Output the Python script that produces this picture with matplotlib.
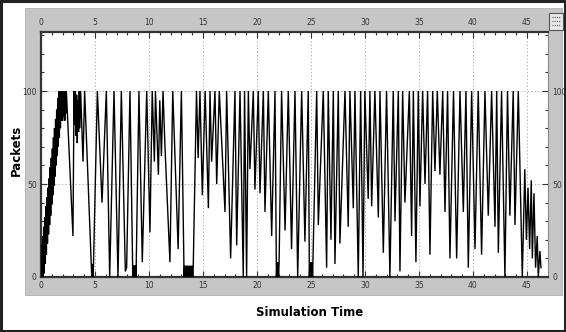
import matplotlib
matplotlib.use("Agg")
import matplotlib.pyplot as plt
from matplotlib.patches import Rectangle
from matplotlib.ticker import MultipleLocator

# ---- data ----
# start-up ramp (dense oscillation band)
ramp_time = [0.0, 0.05, 0.1, 0.15, 0.2, 0.25, 0.3, 0.35, 0.4, 0.45, 0.5, 0.55, 0.6, 0.65, 0.7,
             0.75, 0.8, 0.85, 0.9, 0.95, 1.0, 1.05, 1.1, 1.15, 1.2, 1.25, 1.3, 1.35, 1.4, 1.45,
             1.5, 1.55, 1.6, 1.65, 1.7, 1.75, 1.8, 1.85, 1.9, 1.95, 2.0, 2.05, 2.1, 2.15, 2.2,
             2.25, 2.3, 2.35]
ramp_packets = [0, 17, 0, 22, 0, 27, 2, 32, 7, 38, 12, 43, 18, 48, 23, 53, 28, 59, 33, 64,
                39, 69, 44, 75, 49, 80, 54, 85, 60, 90, 65, 96, 70, 100, 75, 100, 80, 100, 84,
                100, 84, 100, 86, 100, 84, 100, 88, 100]

# early section 2.9 - 8.5 s
early_time = [2.96, 3.06, 3.12, 3.18, 3.24, 3.3, 3.36, 3.42, 3.48, 3.54, 3.6, 3.67, 3.89, 4.04,
              4.7, 4.73, 4.76, 4.79, 4.82, 4.85, 5.22, 5.65, 6.05, 6.36, 6.76, 7.13, 7.44,
              7.81, 7.93, 8.24]
early_packets = [22, 100, 82, 100, 76, 98, 72, 95, 78, 100, 80, 100, 62, 100,
                 0, 7, 0, 7, 0, 4, 100, 40, 100, 0, 100, 0, 100,
                 3, 5, 100]

# short burst near the floor around 8.6 s
burst1_time = [8.5, 8.53, 8.56, 8.59, 8.62, 8.65, 8.68, 8.71, 8.74, 8.77, 8.8]
burst1_packets = [0, 6, 0, 6, 0, 6, 0, 6, 0, 6, 0]

mid1_time = [9.07, 9.38, 9.79, 10.09, 10.3, 10.5, 10.6, 10.87, 11.0, 11.15, 11.3, 11.48, 11.94,
             12.2, 12.7, 13.0]
mid1_packets = [100, 8, 100, 24, 100, 62, 100, 55, 95, 65, 100, 70, 8,
                100, 15, 100]

# long floor burst 13.25 - 14.1 s
burst2_time = [13.25, 13.3, 13.35, 13.4, 13.45, 13.5, 13.55, 13.6, 13.65, 13.7, 13.75, 13.8,
               13.85, 13.9, 13.95, 14.0, 14.05, 14.1]
burst2_packets = [0, 6, 0, 6, 0, 6, 0, 6, 0, 6, 0, 6, 0, 6, 0, 6, 0, 6]

mid2_time = [14.4, 14.55, 14.72, 14.94, 15.2, 15.5, 15.65, 15.8, 16.11, 16.27, 16.51, 17.04,
             17.19, 17.56, 17.96, 18.12, 18.43, 18.73, 18.85, 19.04, 19.2, 19.35, 19.66, 19.81,
             20.12, 20.28, 20.59, 20.74, 21.05, 21.36, 21.67]
mid2_packets = [100, 64, 100, 44, 100, 37, 100, 62, 100, 50, 100, 35,
                100, 10, 100, 17, 100, 0, 100, 0, 100, 58, 100, 47,
                100, 45, 100, 35, 100, 22, 100]

burst3_time = [21.8, 21.85, 21.9, 21.95, 22.0, 22.05]
burst3_packets = [0, 8, 0, 8, 0, 8]

mid3_time = [22.28, 22.6, 22.9, 23.2, 23.52, 23.77, 24.14, 24.44, 24.75]
mid3_packets = [100, 25, 100, 15, 100, 0, 100, 19, 100]

burst4_time = [24.85, 24.9, 24.95, 25.0, 25.05, 25.1, 25.15]
burst4_packets = [0, 8, 0, 8, 0, 8, 0]

late_time = [25.53, 25.68, 26.14, 26.45, 26.6, 26.85, 27.07, 27.22, 27.53, 27.68, 28.15, 28.45,
             28.61, 28.92, 29.07, 29.38, 29.6, 29.82, 29.99, 30.3, 30.46, 30.62, 30.92, 31.24,
             31.39, 31.7, 32.0, 32.31, 32.62, 32.78, 33.09, 33.24, 33.49, 33.7, 34.11, 34.32,
             34.48, 34.72, 34.94, 35.09, 35.34, 35.56, 35.8, 36.02, 36.27, 36.48, 36.7, 36.94,
             37.2, 37.41, 37.65, 37.87, 38.2, 38.49, 38.8, 39.11, 39.35, 39.57, 39.88, 40.19,
             40.49, 40.8, 41.11, 41.42, 41.73, 42.04, 42.2, 42.35, 42.65, 42.96, 43.2, 43.42,
             43.73, 43.89, 44.2, 44.57]
late_packets = [100, 28, 100, 5, 100, 20, 100, 7, 100, 18, 100, 27,
                100, 37, 100, 0, 100, 0, 100, 42, 100, 38, 100, 32,
                100, 13, 100, 0, 100, 30, 100, 3, 100, 40, 100, 22,
                100, 8, 100, 38, 100, 50, 100, 12, 100, 57, 100, 55,
                100, 35, 100, 10, 100, 10, 100, 35, 100, 5, 100, 15,
                100, 12, 100, 33, 100, 27, 100, 13, 100, 0, 100, 33,
                100, 28, 100, 0]

tail_time = [44.8, 44.95, 45.1, 45.25, 45.4, 45.5, 45.65, 45.8, 45.95, 46.05, 46.2, 46.3]
tail_packets = [58, 20, 48, 15, 52, 10, 45, 5, 22, 0, 14, 5]

sim_time = (ramp_time + early_time + burst1_time + mid1_time + burst2_time + mid2_time
            + burst3_time + mid3_time + burst4_time + late_time + tail_time)
packets = (ramp_packets + early_packets + burst1_packets + mid1_packets + burst2_packets
           + mid2_packets + burst3_packets + mid3_packets + burst4_packets + late_packets
           + tail_packets)

x_ticks = [0, 5, 10, 15, 20, 25, 30, 35, 40, 45]
y_ticks = [0, 50, 100]
x_label = "Simulation Time"
y_label = "Packets"

W, H = 566, 332
fig = plt.figure(figsize=(W / 100, H / 100), dpi=100)
fig.patch.set_facecolor("white")

# gray panel
fig.patches.append(Rectangle((25 / W, 1 - 295 / H), (562 - 25) / W, (295 - 8) / H,
                             transform=fig.transFigure, facecolor="#c6c6c6",
                             edgecolor="#b0b0b0", lw=0.6, zorder=0))
# outer border
fig.patches.append(Rectangle((0.002, 0.003), 0.996, 0.994, transform=fig.transFigure,
                             facecolor="none", edgecolor="#222222", lw=2.2, zorder=5))
# small icon top-right
fig.patches.append(Rectangle((549 / W, 1 - 30 / H), 14 / W, 17 / H, transform=fig.transFigure,
                             facecolor="#e8e8e8", edgecolor="#555555", lw=0.8, zorder=3))
for k in range(3):
    fig.lines.append(plt.Line2D([552 / W, 560 / W], [1 - (17 + 4 * k) / H] * 2,
                                transform=fig.transFigure, color="#555555", lw=0.8,
                                linestyle=(0, (1, 1)), zorder=4))

ax = fig.add_axes([41 / W, 1 - 277 / H, (548 - 41) / W, (277 - 31.5) / H])
ax.set_zorder(2)
ax.set_facecolor("white")
ax.plot(sim_time, packets, color="black", lw=1.0, solid_joinstyle="miter", zorder=3)

ax.set_xlim(0, 46.95)
ax.set_ylim(0, 132)
ax.set_xticks(x_ticks)
ax.set_yticks(y_ticks)
ax.xaxis.set_minor_locator(MultipleLocator(1))
ax.yaxis.set_minor_locator(MultipleLocator(10))
ax.grid(True, which="major", color="#b5b5b5", linestyle=(0, (1.5, 2)), lw=0.7)

ax.tick_params(axis="x", which="both", top=True, labeltop=True, bottom=True, labelbottom=True,
               direction="in", length=2.5, width=0.8, labelsize=5.5, colors="#333333", pad=3)
ax.tick_params(axis="x", which="major", length=4)
ax.tick_params(axis="y", which="both", left=True, right=True, labelleft=True, labelright=True,
               direction="in", length=2.5, width=0.8, labelsize=5.5, colors="#333333", pad=3)
ax.tick_params(axis="y", which="major", length=4)
for s in ["left", "bottom", "top"]:
    ax.spines[s].set_linewidth(1.6)
    ax.spines[s].set_color("#333333")
ax.spines["right"].set_linewidth(0.8)
ax.spines["right"].set_color("#888888")

fig.text(310 / W, 1 - 313 / H, x_label, ha="center", va="center", fontsize=8.5,
         fontweight="bold", family="DejaVu Sans")
fig.text(16 / W, 1 - 150 / H, y_label, ha="center", va="center", rotation=90, fontsize=8.5,
         fontweight="bold", family="DejaVu Sans")

fig.savefig("out.png", dpi=100)
